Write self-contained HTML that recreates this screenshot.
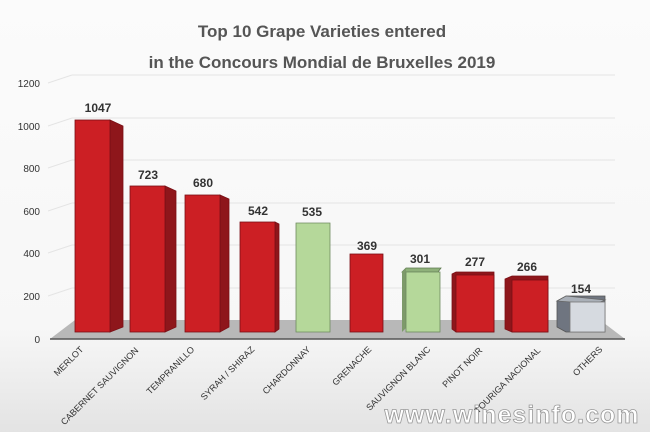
<!DOCTYPE html>
<html><head><meta charset="utf-8"><style>
html,body{margin:0;padding:0;background:#fff}
svg{display:block;font-family:"Liberation Sans",sans-serif}
</style></head><body>
<svg width="650" height="438" viewBox="0 0 650 438">
<defs>
<linearGradient id="bg" x1="0" y1="0" x2="0" y2="1">
<stop offset="0" stop-color="#fbfbfb"/><stop offset="0.75" stop-color="#f7f7f7"/><stop offset="1" stop-color="#e2e2e2"/></linearGradient>
</defs>
<rect width="650" height="438" fill="url(#bg)"/>
<rect x="0" y="432" width="650" height="6" fill="#fff"/>
<g font-size="17" fill="#555" text-anchor="middle" font-weight="bold">
<text x="322" y="37">Top 10 Grape Varieties entered</text>
<text x="322" y="68">in the Concours Mondial de Bruxelles 2019</text>
</g>
<g stroke="#e4e4e4" stroke-width="1">
<line x1="48" y1="296" x2="72" y2="288"/><line x1="72" y1="288" x2="615" y2="288"/>
<line x1="48" y1="253" x2="72" y2="245"/><line x1="72" y1="245" x2="615" y2="245"/>
<line x1="48" y1="211" x2="72" y2="203"/><line x1="72" y1="203" x2="615" y2="203"/>
<line x1="48" y1="168" x2="72" y2="160"/><line x1="72" y1="160" x2="615" y2="160"/>
<line x1="48" y1="126" x2="72" y2="118"/><line x1="72" y1="118" x2="615" y2="118"/>
<line x1="48" y1="83" x2="72" y2="75"/><line x1="72" y1="75" x2="615" y2="75"/>
</g>
<g font-size="10" fill="#333" text-anchor="end">
<text x="40" y="343">0</text><text x="40" y="300">200</text><text x="40" y="257">400</text>
<text x="40" y="215">600</text><text x="40" y="172">800</text><text x="40" y="130">1000</text><text x="40" y="87">1200</text>
</g>
<polygon points="50,339 75,320 600,320 625,339" fill="#b8b8b8"/>
<line x1="50" y1="339" x2="625" y2="339" stroke="#555" stroke-width="1.5"/>
<g stroke-width="0.8">
<g fill="#cc1f24" stroke="#7a1016">
<polygon points="110,120 123,126 123,327 110,332" fill="#8e161b"/><rect x="75" y="120" width="35" height="212"/>
<polygon points="165,186 176,191 176,327 165,332" fill="#8e161b"/><rect x="130" y="186" width="35" height="146"/>
<polygon points="220,195 229,199 229,327 220,332" fill="#8e161b"/><rect x="185" y="195" width="35" height="137"/>
<polygon points="275,222 279,224 279,329 275,332" fill="#8e161b"/><rect x="240" y="222" width="35" height="110"/>
<rect x="350" y="254" width="33" height="78"/>
<polygon points="452,274 456,272 494,272 494,332 456,332 452,329" fill="#8e161b"/><rect x="456" y="275" width="38" height="57"/>
<polygon points="505,279 512,276 548,276 548,332 512,332 505,329" fill="#8e161b"/><rect x="512" y="280" width="36" height="52"/>
</g>
<polygon points="296,223 330,223 330,332 296,332" fill="#b5d89a" stroke="#6f8a5f"/>
<polygon points="402,272 406,268 441,268 438,272" fill="#8fb17a" stroke="#5f7a50"/>
<polygon points="402,272 406,268 406,328 402,332" fill="#7d9a6a"/>
<rect x="406" y="272" width="34" height="60" fill="#b5d89a" stroke="#6f8a5f"/>
<polygon points="557,301 566,296 605,296 605,332 566,332 557,327" fill="#6f7580" stroke="#555"/>
<polygon points="557,301 566,296 605,300 596,304" fill="#aab0b8" stroke="#666"/>
<rect x="570" y="302" width="35" height="30" fill="#d6dae0" stroke="#777"/>
</g>
<g font-size="12" font-weight="bold" fill="#333" text-anchor="middle">
<text x="98" y="112">1047</text><text x="148" y="179">723</text><text x="203" y="187">680</text>
<text x="258" y="215">542</text><text x="312" y="216">535</text><text x="367" y="250">369</text>
<text x="420" y="263">301</text><text x="475" y="266">277</text><text x="527" y="271">266</text>
<text x="581" y="293">154</text>
</g>
<g font-size="9" fill="#333" text-anchor="end">
<text transform="translate(84,350) rotate(-45)">MERLOT</text>
<text transform="translate(139,351) rotate(-45)">CABERNET SAUVIGNON</text>
<text transform="translate(195,350) rotate(-45)">TEMPRANILLO</text>
<text transform="translate(255,350) rotate(-45)">SYRAH / SHIRAZ</text>
<text transform="translate(311,350) rotate(-45)">CHARDONNAY</text>
<text transform="translate(372,350) rotate(-45)">GRENACHE</text>
<text transform="translate(431,350) rotate(-45)">SAUVIGNON BLANC</text>
<text transform="translate(483,351) rotate(-45)">PINOT NOIR</text>
<text transform="translate(541,351) rotate(-45)">TOURIGA NACIONAL</text>
<text transform="translate(603,350) rotate(-45)">OTHERS</text>
</g>
<text x="512" y="423" font-size="25" font-weight="bold" fill="#fff" stroke="#999" stroke-width="0.8" text-anchor="middle" letter-spacing="1">www.winesinfo.com</text>
</svg>
</body></html>
